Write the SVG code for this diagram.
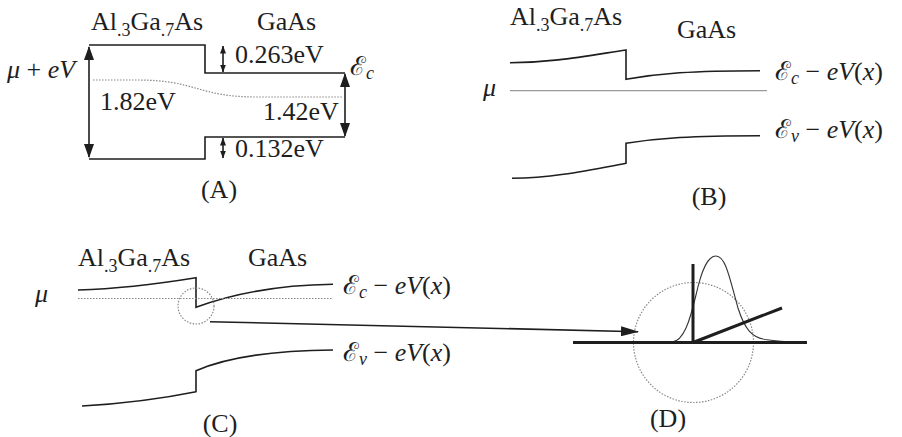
<svg xmlns="http://www.w3.org/2000/svg" width="902" height="437" viewBox="0 0 902 437" font-family="Liberation Serif" font-size="26">
<defs>
<style>
text{font-family:"Liberation Serif",serif;font-size:26px;fill:#1e1e1e}
.it{font-style:italic}
.sub{font-size:18px}
.ln{fill:none;stroke:#1e1e1e;stroke-width:1.6}
.thick{fill:none;stroke:#1e1e1e;stroke-width:3}
.thin{fill:none;stroke:#333;stroke-width:1.1}
.dot{fill:none;stroke:#888;stroke-width:1.2;stroke-dasharray:1.5 1.5}
.mu{fill:none;stroke:#999;stroke-width:1.3}
</style>
<marker id="big" viewBox="0 0 14 10" refX="13" refY="5" markerWidth="14" markerHeight="10" markerUnits="userSpaceOnUse" orient="auto-start-reverse">
<path d="M0,0 L14,5 L0,10 Z" fill="#1e1e1e"/>
</marker>
<marker id="small" viewBox="0 0 8 6" refX="7.5" refY="3" markerWidth="8" markerHeight="6" markerUnits="userSpaceOnUse" orient="auto-start-reverse">
<path d="M0,0 L8,3 L0,6 Z" fill="#1e1e1e"/>
</marker>
<marker id="arr" viewBox="0 0 18 10" refX="17" refY="5" markerWidth="18" markerHeight="10" markerUnits="userSpaceOnUse" orient="auto">
<path d="M0,0 L18,5 L0,10 Z" fill="#1e1e1e"/>
</marker>
</defs>

<g id="panelA">
<text x="91" y="30">Al<tspan class="sub" dy="6">.3</tspan><tspan dy="-6">Ga</tspan><tspan class="sub" dy="6">.7</tspan><tspan dy="-6">As</tspan></text>
<text x="257" y="30">GaAs</text>
<path class="ln" d="M89,45 H205 V73 H345"/>
<path class="ln" d="M89,159 H205 V137 H345"/>
<path class="ln" d="M89,47 V157" marker-start="url(#big)" marker-end="url(#big)"/>
<path class="ln" d="M345,74 V136" marker-start="url(#big)" marker-end="url(#big)"/>
<path class="ln" d="M223,46 V72" marker-start="url(#small)" marker-end="url(#small)"/>
<path class="ln" d="M223,138 V158" marker-start="url(#small)" marker-end="url(#small)"/>
<path class="dot" d="M93,80 H137 C197,80 197,97 257,97 H343"/>
<text x="7" y="78"><tspan class="it">μ</tspan> + <tspan class="it">eV</tspan></text>
<text x="100" y="110">1.82eV</text>
<text x="263" y="120">1.42eV</text>
<text x="235" y="63">0.263eV</text>
<text x="235" y="157">0.132eV</text>
<text x="350" y="75">ℰ<tspan class="sub it" dy="4">c</tspan></text>
<text x="219" y="198" text-anchor="middle">(A)</text>
</g>

<g id="panelB">
<text x="510" y="25">Al<tspan class="sub" dy="6">.3</tspan><tspan dy="-6">Ga</tspan><tspan class="sub" dy="6">.7</tspan><tspan dy="-6">As</tspan></text>
<text x="677" y="38">GaAs</text>
<path class="ln" d="M510,62.7 C550,62.7 580,57 626,50 V79.3 C660,73.5 690,70.7 760,70.7"/>
<path class="mu" d="M510,90.7 H767"/>
<path class="ln" d="M512,178.3 C552,178 585,171 626,163.3 V143.3 C660,138 690,135.7 760,135.7"/>
<text x="483" y="96" class="it">μ</text>
<text x="775" y="80">ℰ<tspan class="sub it" dy="4">c</tspan><tspan dy="-4"> − </tspan><tspan class="it">eV</tspan>(<tspan class="it">x</tspan>)</text>
<text x="775" y="138">ℰ<tspan class="sub it" dy="4">v</tspan><tspan dy="-4"> − </tspan><tspan class="it">eV</tspan>(<tspan class="it">x</tspan>)</text>
<text x="709" y="205" text-anchor="middle">(B)</text>
</g>

<g id="panelC">
<text x="78" y="266">Al<tspan class="sub" dy="6">.3</tspan><tspan dy="-6">Ga</tspan><tspan class="sub" dy="6">.7</tspan><tspan dy="-6">As</tspan></text>
<text x="248" y="266">GaAs</text>
<path class="ln" d="M78,290 C125,288.5 160,283.5 196,277.7 V307.3 C235,293 280,285 333,284.3"/>
<path class="dot" d="M78,298.5 H333"/>
<path class="ln" d="M82,406 C125,403.5 160,399 196,391.7 V370.7 C225,358 270,350.5 333,350"/>
<circle class="dot" cx="196" cy="306" r="18"/>
<text x="35" y="302" class="it">μ</text>
<text x="343" y="294">ℰ<tspan class="sub it" dy="4">c</tspan><tspan dy="-4"> − </tspan><tspan class="it">eV</tspan>(<tspan class="it">x</tspan>)</text>
<text x="343" y="361">ℰ<tspan class="sub it" dy="4">v</tspan><tspan dy="-4"> − </tspan><tspan class="it">eV</tspan>(<tspan class="it">x</tspan>)</text>
<text x="220" y="432" text-anchor="middle">(C)</text>
</g>

<g id="panelD">
<circle class="dot" cx="693.5" cy="342.5" r="60"/>
<path class="thin" d="M672,342 C684,341 690,320 696,295 C702,268 708,256 716,256 C726,256 730,280 738,308 C745,330 752,337 765,339.5 C775,341 785,342 795,342"/>
<path class="thick" d="M573,342.5 H807"/>
<path class="thick" d="M693,264 V342.5"/>
<path class="thick" d="M693,342.5 L782,308"/>
<text x="668" y="427" text-anchor="middle">(D)</text>
</g>

<g id="connectors">
<path class="ln" d="M210,321.7 L638,331.7" stroke-width="1.4" marker-end="url(#arr)"/>
</g>
</svg>
